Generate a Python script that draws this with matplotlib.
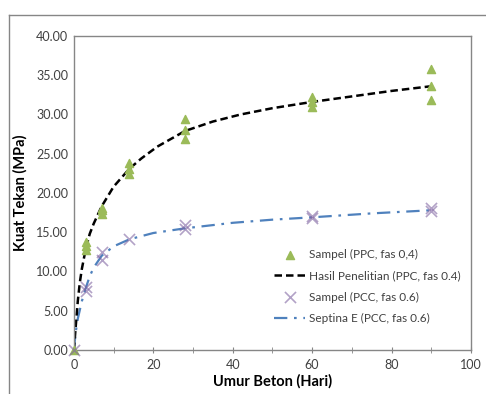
import matplotlib
matplotlib.use('Agg')
import matplotlib.pyplot as plt
from matplotlib.lines import Line2D
from matplotlib.ticker import MultipleLocator, FormatStrFormatter

plt.rcParams['font.family'] = ['Lato', 'DejaVu Sans']

# sample data, PPC fas 0.4 (three cylinders per age)
ppc_days = [0, 3, 3, 3, 7, 7, 7, 14, 14, 14, 28, 28, 28, 60, 60, 60, 90, 90, 90]
ppc_mpa = [0.0, 12.8, 13.3, 13.8, 17.3, 17.8, 18.1, 22.4, 23.0, 23.8,
           26.9, 28.0, 29.4, 30.9, 31.6, 32.2, 31.9, 33.6, 35.8]

# sample data, PCC fas 0.6
pcc_days = [0, 3, 3, 7, 7, 14, 28, 28, 60, 60, 90, 90]
pcc_mpa = [0.0, 7.5, 8.0, 11.5, 12.5, 14.2, 15.4, 15.9, 16.8, 17.1, 17.7, 18.1]

# curve: Hasil Penelitian (PPC, fas 0.4)
hasil_days = [0, 0.25, 0.5, 1, 1.5, 2, 3, 4, 5, 7, 10, 14, 17, 21, 28,
              35, 42, 50, 60, 70, 80, 90]
hasil_mpa = [0.0, 1.6, 3.2, 6.3, 8.6, 10.3, 12.9, 14.8, 16.1, 18.3, 20.8,
             23.1, 24.4, 25.9, 27.9, 29.1, 30.0, 30.8, 31.6, 32.3, 33.0, 33.6]

# curve: Septina E (PCC, fas 0.6)
septina_days = [0, 0.5, 1, 2, 3, 4, 5, 7, 10, 14, 20, 28, 40, 50, 60, 75, 90]
septina_mpa = [0.0, 2.4, 4.0, 6.2, 7.9, 9.4, 10.5, 12.0, 13.2, 14.1, 14.9,
               15.5, 16.2, 16.6, 16.9, 17.4, 17.8]

fig = plt.figure(figsize=(4.86, 3.94), dpi=100)
ax = fig.add_axes([0.152, 0.1117, 0.817, 0.797])

ax.plot(septina_days, septina_mpa, color='#4F81BD', lw=1.6,
        dashes=(6, 3, 1.2, 3), label='Septina E (PCC, fas 0.6)', zorder=2)
ax.plot(hasil_days, hasil_mpa, color='black', lw=1.8,
        dashes=(3, 1.6), label='Hasil Penelitian (PPC, fas 0.4)', zorder=2)
ax.scatter(ppc_days, ppc_mpa, marker='^', s=34, color='#9BBB59',
           label='Sampel (PPC, fas 0,4)', zorder=3, clip_on=False)
ax.scatter(pcc_days, pcc_mpa, marker='x', s=64, color='#8064A2', alpha=0.6,
           linewidths=1.2, label='Sampel (PCC, fas 0.6)', zorder=3,
           clip_on=False)

ax.set_xlim(0, 100)
ax.set_ylim(0, 40)
ax.xaxis.set_major_locator(MultipleLocator(20))
ax.xaxis.set_minor_locator(MultipleLocator(10))
ax.yaxis.set_major_locator(MultipleLocator(5))
ax.yaxis.set_major_formatter(FormatStrFormatter('%.2f'))
ax.tick_params(axis='x', which='both', direction='inout', length=5,
               color='#868686', labelsize=9, labelcolor='#404040', pad=4)
ax.tick_params(axis='y', length=0, labelsize=9, labelcolor='#404040', pad=4)
for s in ax.spines.values():
    s.set_color('#868686')
    s.set_linewidth(1)

ax.set_xlabel('Umur Beton (Hari)', fontsize=10.5, fontweight='bold', labelpad=2)
ax.set_ylabel('Kuat Tekan (MPa)', fontsize=10.5, fontweight='bold', labelpad=6)

h, l = ax.get_legend_handles_labels()
order = [2, 1, 3, 0]
leg = ax.legend([h[i] for i in order], [l[i] for i in order],
                loc='lower right', bbox_to_anchor=(1.0, 0.05), frameon=False,
                fontsize=8.5, handlelength=2.6, labelspacing=0.85,
                handletextpad=0.3)
for t in leg.get_texts():
    t.set_color('#404040')

# outer chart frame (cut off on the right and bottom)
fig.add_artist(Line2D([9 / 486, 9 / 486], [0, 1 - 15 / 394],
                      transform=fig.transFigure, color='#868686', lw=1))
fig.add_artist(Line2D([9 / 486, 1], [1 - 15 / 394, 1 - 15 / 394],
                      transform=fig.transFigure, color='#868686', lw=1))

fig.savefig('out.png', dpi=100)
